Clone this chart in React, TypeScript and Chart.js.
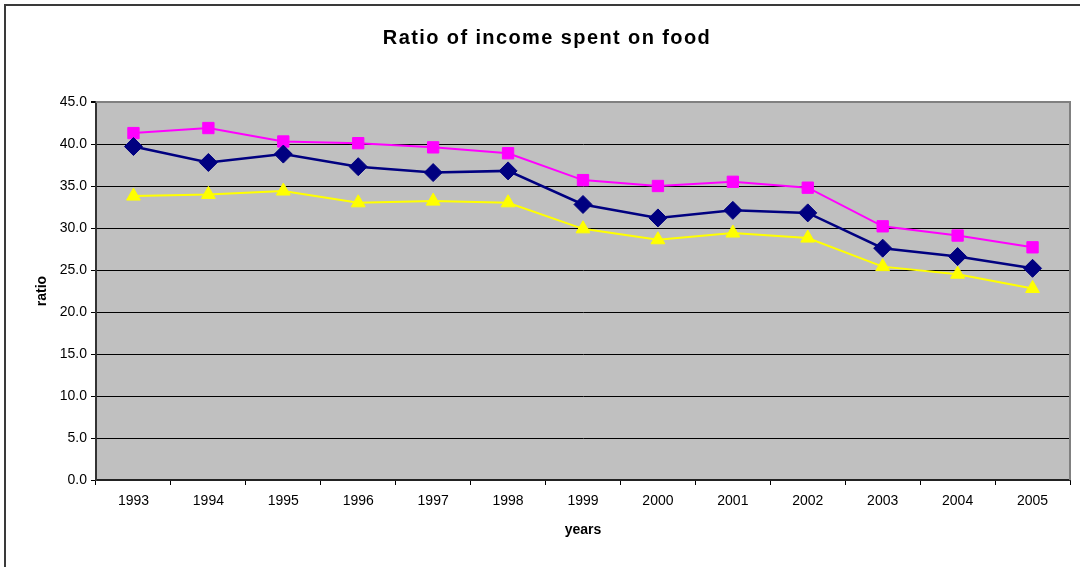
import React, { useEffect, useRef } from 'react';
import { Chart, registerables } from 'chart.js';

Chart.register(...registerables);

const TITLE = 'Ratio of income spent on food';
const X_TITLE = 'years';
const Y_TITLE = 'ratio';

const years = ['1993', '1994', '1995', '1996', '1997', '1998', '1999', '2000', '2001', '2002', '2003', '2004', '2005'];
const seriesNavy = [39.7, 37.8, 38.8, 37.3, 36.6, 36.8, 32.8, 31.2, 32.1, 31.8, 27.6, 26.6, 25.2];
const seriesPink = [41.3, 41.9, 40.3, 40.1, 39.6, 38.9, 35.7, 35.0, 35.5, 34.8, 30.2, 29.1, 27.7];
const seriesYellow = [33.8, 34.0, 34.4, 33.0, 33.2, 33.0, 29.9, 28.6, 29.4, 28.8, 25.4, 24.5, 22.8];
const yMin = 0;
const yMax = 45;
const yStep = 5;

const FONT = '"Liberation Sans", Arial, sans-serif';

const plotBgPlugin = {
  id: 'plotBg',
  beforeDraw(chart: any) {
    const { ctx, chartArea } = chart;
    if (!chartArea) return;
    ctx.save();
    ctx.fillStyle = '#C0C0C0';
    ctx.fillRect(chartArea.left, chartArea.top, chartArea.right - chartArea.left, chartArea.bottom - chartArea.top);
    ctx.restore();
  },
  beforeDatasetsDraw(chart: any) {
    const { ctx, chartArea } = chart;
    ctx.save();
    ctx.strokeStyle = '#808080';
    ctx.lineWidth = 2;
    ctx.beginPath();
    ctx.moveTo(chartArea.left, chartArea.top);
    ctx.lineTo(chartArea.right, chartArea.top);
    ctx.lineTo(chartArea.right, chartArea.bottom);
    ctx.stroke();
    ctx.restore();
  },
  afterDraw(chart: any) {
    const ctx = chart.ctx;
    ctx.save();
    ctx.font = `bold 20px ${FONT}`;
    try {
      (ctx as any).letterSpacing = '1.4px';
    } catch (e) {}
    ctx.textAlign = 'center';
    ctx.textBaseline = 'alphabetic';
    ctx.fillStyle = '#000';
    ctx.fillText(TITLE, 547, 44);
    ctx.restore();
  },
};

export default function App() {
  const canvasRef = useRef<HTMLCanvasElement | null>(null);

  useEffect(() => {
    if (!canvasRef.current) return;
    const chart = new Chart(canvasRef.current, {
      type: 'line',
      data: {
        labels: years,
        datasets: [
          {
            label: 'Series 1',
            data: seriesNavy,
            borderColor: '#000080',
            backgroundColor: '#000080',
            borderWidth: 2.5,
            pointStyle: 'rectRot',
            pointRadius: 9,
            pointBorderWidth: 1,
            tension: 0,
          },
          {
            label: 'Series 2',
            data: seriesPink,
            borderColor: '#FF00FF',
            backgroundColor: '#FF00FF',
            borderWidth: 2,
            pointStyle: 'rect',
            pointRadius: 8,
            pointBorderWidth: 1,
            tension: 0,
          },
          {
            label: 'Series 3',
            data: seriesYellow,
            borderColor: '#FFFF00',
            backgroundColor: '#FFFF00',
            borderWidth: 2,
            pointStyle: 'triangle',
            pointRadius: 8,
            pointBorderWidth: 1,
            tension: 0,
          },
        ],
      },
      options: {
        animation: false,
        responsive: false,
        maintainAspectRatio: false,
        layout: { padding: { top: 102, right: 9, left: 0, bottom: 0 } },
        plugins: {
          legend: { display: false },
          tooltip: { enabled: false },
          title: { display: false },
        },
        scales: {
          x: {
            type: 'category',
            offset: true,
            afterFit(scale: any) {
              scale.height = 87;
            },
            grid: {
              display: true,
              offset: true,
              drawOnChartArea: false,
              drawTicks: true,
              tickLength: 5,
              tickColor: '#000',
              color: '#000',
            },
            border: { display: true, color: '#222', width: 2 },
            ticks: {
              color: '#000',
              font: { family: FONT, size: 14 },
              padding: 8,
              maxRotation: 0,
              autoSkip: false,
            },
            title: {
              display: true,
              text: X_TITLE,
              color: '#000',
              font: { family: FONT, size: 14, weight: 'bold' },
              padding: { top: 0, bottom: 28 },
            },
          },
          y: {
            min: yMin,
            max: yMax,
            afterFit(scale: any) {
              scale.width = 96;
            },
            ticks: {
              stepSize: yStep,
              color: '#000',
              font: { family: FONT, size: 14 },
              padding: 4,
              callback: (v: any) => Number(v).toFixed(1),
            },
            grid: {
              display: true,
              drawTicks: true,
              tickLength: 5,
              tickColor: '#000',
              color: (c: any) => (c.tick && c.tick.value === yMax ? '#808080' : '#000'),
              lineWidth: (c: any) => (c.tick && c.tick.value === yMax ? 2 : 1),
            },
            border: { display: true, color: '#333', width: 2 },
            title: {
              display: true,
              text: Y_TITLE,
              color: '#000',
              font: { family: FONT, size: 14, weight: 'bold' },
              padding: { top: 34, bottom: 0 },
            },
          },
        },
      },
      plugins: [plotBgPlugin],
    });
    return () => chart.destroy();
  }, []);

  return (
    <div
      style={{
        position: 'fixed',
        left: 0,
        top: 0,
        width: 1080,
        height: 567,
        background: '#fff',
        overflow: 'hidden',
      }}
    >
      <canvas ref={canvasRef} width={1080} height={567} style={{ position: 'absolute', left: 0, top: 0, width: 1080, height: 567 }} />
      <div
        style={{
          position: 'absolute',
          left: 4,
          top: 4,
          width: 1090,
          height: 580,
          borderLeft: '2px solid #3a3a3a',
          borderTop: '2px solid #3a3a3a',
          pointerEvents: 'none',
        }}
      />
    </div>
  );
}
